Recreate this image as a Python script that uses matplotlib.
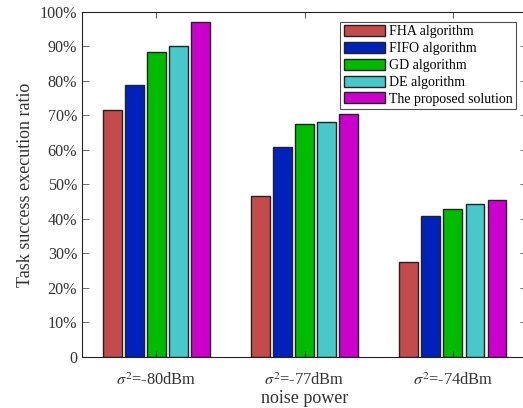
import numpy as np
import matplotlib.pyplot as plt

groups = [r'$\sigma^2$=-80dBm', r'$\sigma^2$=-77dBm', r'$\sigma^2$=-74dBm']
methods = ['FHA algorithm', 'FIFO algorithm', 'GD algorithm',
           'DE algorithm', 'The proposed solution']
fha = [71.6, 46.7, 27.4]
fifo = [78.7, 60.9, 40.9]
gd = [88.3, 67.4, 42.9]
de = [90.1, 68.0, 44.4]
proposed = [97.0, 70.5, 45.4]
colors = ['#C44B4B', '#0022BB', '#00BB00', '#48C8C8', '#CC00CC']
yticks = np.arange(0, 101, 10)
ylabels = ['0'] + [f'{v}%' for v in yticks[1:]]

plt.rcParams['font.family'] = ['Liberation Serif', 'DejaVu Serif']
plt.rcParams['mathtext.fontset'] = 'stix'

fig = plt.figure(figsize=(5.23, 4.08), dpi=100)
ax = fig.add_axes([0.1568, 0.125, 0.851, 0.8456])

x = np.arange(1, len(groups) + 1)
step = 0.1485
width = 0.127
series = [fha, fifo, gd, de, proposed]
for i, (vals, name, c) in enumerate(zip(series, methods, colors)):
    ax.bar(x + (i - 2) * step, vals, width, color=c, edgecolor='#222222',
           linewidth=1.0, label=name)

ax.set_xlim(0.5, 3.5)
ax.set_ylim(0, 100)
ax.set_xticks(x)
ax.set_xticklabels(groups, fontsize=11.8, color='#333333')
ax.set_yticks(yticks)
ax.set_yticklabels(ylabels, fontsize=11.6, color='#333333')
ax.tick_params(direction='in', top=True, right=True, length=4, width=0.6,
               colors='#333333', labelcolor='#333333')
ax.tick_params(axis='x', pad=11)
for s in ax.spines.values():
    s.set_linewidth(0.8)
    s.set_color('#222222')
# the right border sits just past the picture edge, only tick tips show
ax.spines['right'].set_visible(False)
ax.tick_params(axis='y', which='both', right=True, length=5, width=0.5)

ax.set_xlabel('noise power', fontsize=13, labelpad=1, color='#333333')
ax.set_ylabel('Task success execution ratio', fontsize=13, labelpad=4,
              color='#333333')

leg = ax.legend(loc='upper left', bbox_to_anchor=(0.58, 0.972), fontsize=10,
                frameon=True, fancybox=False, edgecolor='#222222',
                handlelength=3.0, handleheight=0.85, handletextpad=0.25,
                labelspacing=0.25, borderpad=0.25, borderaxespad=0)
leg.get_frame().set_linewidth(0.8)

fig.savefig('out.png', dpi=100)
